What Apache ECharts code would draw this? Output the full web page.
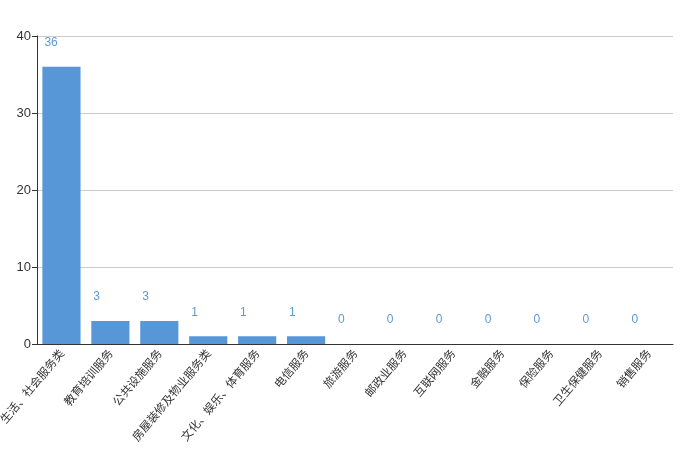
<!DOCTYPE html>
<html><head><meta charset="utf-8">
<script src="https://cdn.jsdelivr.net/npm/echarts@6/dist/echarts.min.js"></script>
<style>html,body{margin:0;padding:0;background:#fff}#c{width:680px;height:453px}</style>
</head><body><div id="c"></div>
<script>
const categories = ["生活、社会服务类","教育培训服务","公共设施服务","房屋装修及物业服务类","文化、娱乐、体育服务","电信服务","旅游服务","邮政业服务","互联网服务","金融服务","保险服务","卫生保健服务","销售服务"];
const values = [36,3,3,1,1,1,0,0,0,0,0,0,0];
const yTicks = [0,10,20,30,40];

const chart = echarts.init(document.getElementById('c'));
chart.setOption({
  animation:false,
  grid:{left:37,right:7,top:36,bottom:109,containLabel:false,outerBoundsMode:'none'},
  xAxis:{type:'category',data:categories,
    axisLine:{lineStyle:{color:'#333'}},
    axisTick:{alignWithLabel:false,lineStyle:{color:'#333'}},
    axisLabel:{rotate:50,interval:0,fontSize:11.5,color:'#333',fontFamily:'Noto Sans CJK SC',margin:7}},
  yAxis:{type:'value',min:yTicks[0],max:yTicks[yTicks.length-1],interval:10,
    axisLine:{show:true,lineStyle:{color:'#333'}},
    axisTick:{show:true,lineStyle:{color:'#333'}},
    axisLabel:{fontSize:13,color:'#333',margin:6},
    splitLine:{lineStyle:{color:'#ccc'}}},
  series:[{type:'bar',data:values,barCategoryGap:'22%',
    itemStyle:{color:'#5797d8'},
    labelLayout:{hideOverlap:false},
    label:{show:true,position:[2,-30],align:'left',verticalAlign:'top',color:'#5b9bd5',fontSize:12}}]
});
</script></body></html>
